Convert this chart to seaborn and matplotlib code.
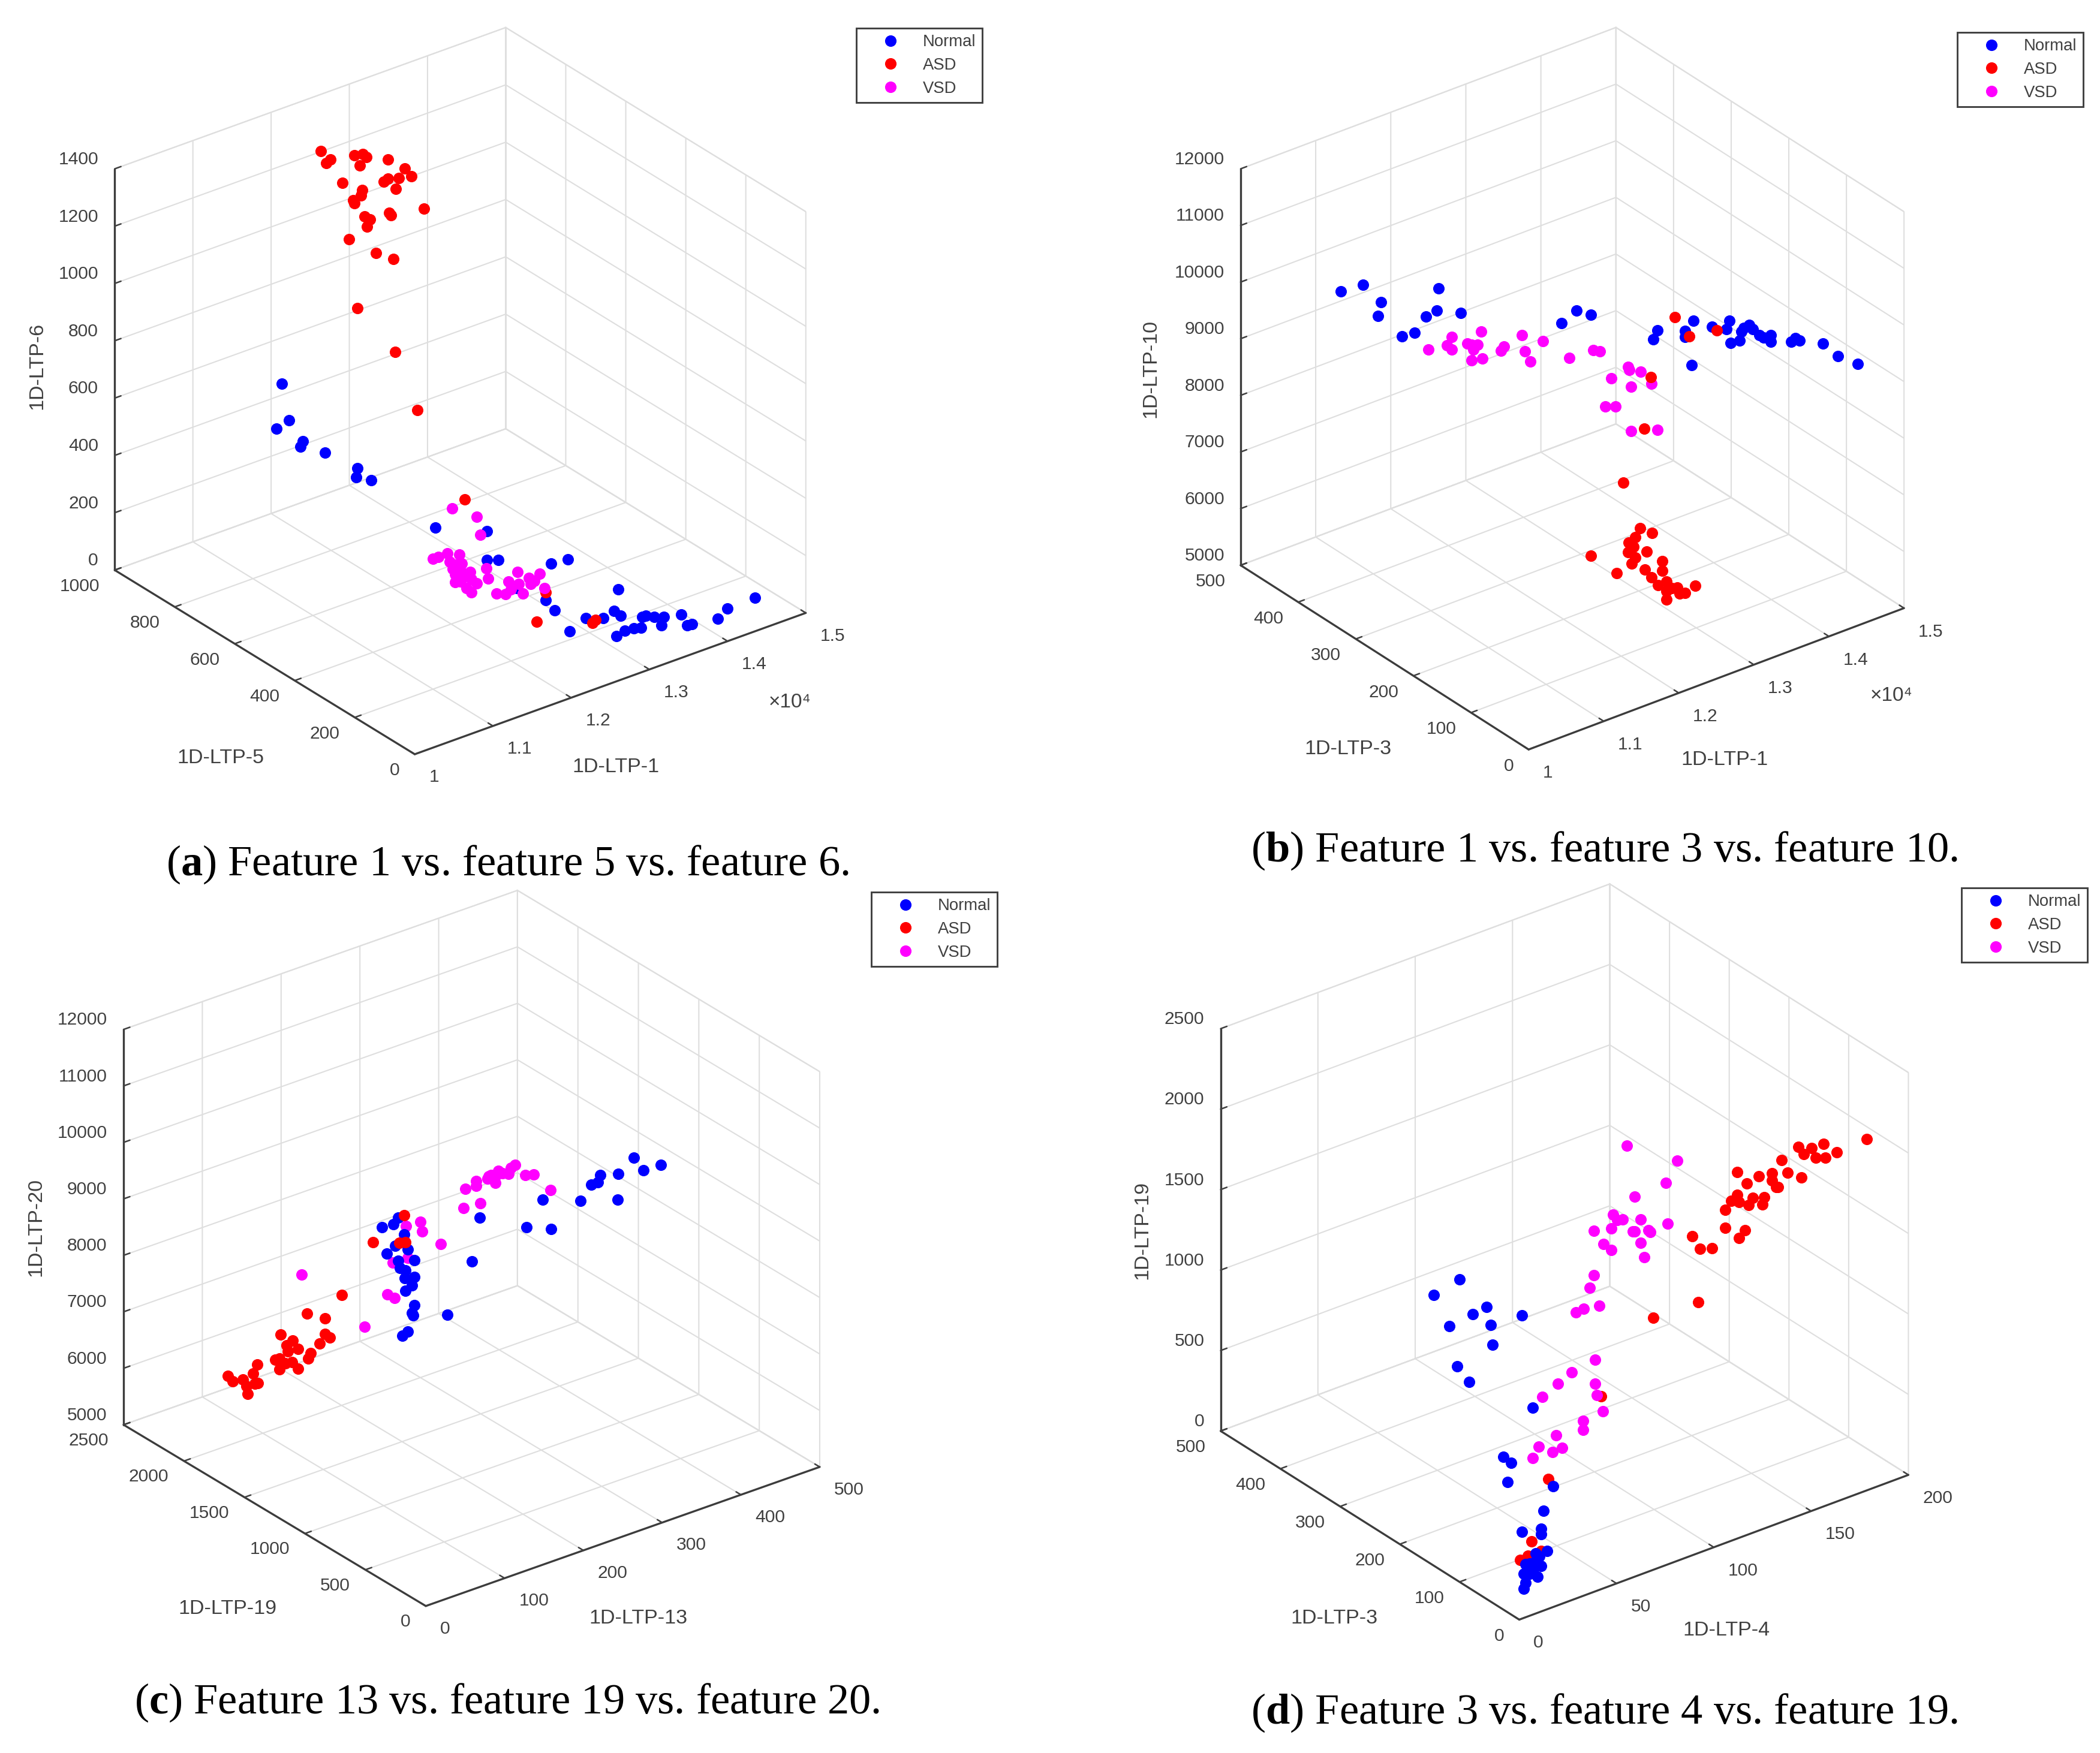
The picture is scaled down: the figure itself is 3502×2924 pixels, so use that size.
import numpy as np
import matplotlib
matplotlib.use("Agg")
import matplotlib.pyplot as plt
from matplotlib.lines import Line2D
import seaborn as sns

W, H = 3502, 2924
DPI = 300

classes = ["Normal", "ASD", "VSD"]
class_colors = ["#0000ff", "#ff0000", "#ff00ff"]

# (a) feature 1 / 5 / 6
a_normal_x = [11558, 11652, 11490, 11832, 11798, 12115, 12526, 12509, 12706, 11413, 12072, 12072, 12218, 12894, 13108, 12457, 12825, 12937, 13177, 12560, 12766, 12988, 13125, 13211, 13151, 13262, 13373, 13468, 13485, 13528, 13639, 13759, 13536, 13793, 13870, 13930, 14063, 14191, 14542]
a_normal_y = [850, 850, 850, 850, 850, 850, 850, 850, 850, 300, 300, 300, 300, 300, 300, 300, 300, 300, 150, 150, 150, 150, 150, 150, 150, 150, 150, 150, 150, 150, 150, 150, 100, 100, 100, 100, 50, 50, 50]
a_normal_z = [594, 457, 443, 366, 350, 298, 203, 172, 143, 459, 381, 281, 267, 188, 180, 145, 66, 19, 166, 81, 105, 83, 95, 70, 5, 14, 10, 3, 39, 39, 23, 12, 37, 50, 4, 2, 41, 62, 66]
a_asd_x = [12063, 12132, 12183, 12492, 12594, 12646, 12560, 12920, 13134, 12337, 12868, 12920, 13057, 13219, 13022, 12586, 12577, 12474, 12492, 13382, 12620, 12688, 12937, 12954, 12654, 12423, 12766, 12988, 12526, 13014, 13296, 11789, 12825, 12132, 12851, 12886]
a_asd_y = [850, 850, 850, 850, 850, 850, 850, 850, 850, 850, 850, 850, 850, 850, 850, 850, 850, 850, 850, 850, 850, 850, 850, 850, 850, 850, 850, 850, 850, 850, 850, 300, 300, 150, 150, 150]
a_asd_z = [1355, 1307, 1313, 1297, 1293, 1276, 1255, 1241, 1189, 1216, 1169, 1175, 1162, 1152, 1129, 1167, 1150, 1142, 1131, 1024, 1073, 1055, 1053, 1043, 1034, 1011, 929, 887, 761, 561, 329, 519, 93, 155, 81, 87]
a_vsd_x = [11627, 11944, 11986, 11387, 11456, 11567, 11721, 11601, 11670, 11755, 11635, 11738, 11858, 11670, 11755, 11875, 11670, 11738, 11944, 11815, 11875, 12063, 12089, 12466, 12346, 12483, 12611, 12680, 12748, 12637, 12380, 12200, 12312, 12534, 12808]
a_vsd_y = [300, 300, 300, 300, 300, 300, 300, 300, 300, 300, 300, 300, 300, 300, 300, 300, 300, 300, 300, 300, 300, 300, 300, 300, 300, 300, 300, 300, 300, 300, 300, 300, 300, 300, 300]
a_vsd_z = [505, 443, 378, 352, 352, 354, 335, 321, 304, 300, 292, 277, 261, 271, 252, 234, 242, 238, 211, 207, 188, 252, 215, 201, 178, 157, 165, 147, 165, 141, 147, 151, 137, 118, 110]

# (b) feature 1 / 3 / 10
b_normal_x = [10758, 11052, 11292, 11257, 12059, 12041, 11890, 12353, 11578, 11738, 12353, 12558, 12745, 12041, 12103, 12469, 12469, 12576, 12558, 12825, 13021, 13057, 13075, 13191, 13218, 13253, 13325, 13369, 13458, 13512, 13610, 13610, 13877, 13940, 13993, 14305, 14501, 14768]
b_normal_y = [425, 425, 425, 425, 425, 425, 425, 425, 425, 425, 250, 250, 250, 50, 50, 50, 50, 50, 50, 50, 50, 50, 50, 50, 50, 50, 50, 50, 50, 50, 50, 50, 50, 50, 50, 50, 50, 50]
b_normal_z = [9949, 9919, 9489, 9264, 9352, 8970, 8931, 8764, 8745, 8725, 9729, 9846, 9680, 10903, 11021, 10835, 10727, 10962, 10189, 10727, 10590, 10717, 10316, 10306, 10443, 10492, 10512, 10414, 10267, 10198, 10189, 10071, 9934, 9973, 9905, 9689, 9376, 9102]
b_asd_x = [12335, 12522, 12888, 12968, 12879, 12603, 12175, 12513, 12825, 12986, 12763, 12674, 12736, 12665, 12915, 12763, 12718, 13120, 12888, 13120, 12977, 13066, 13182, 13253, 13325, 13369, 13182, 13164, 13235, 12986]
b_asd_y = [50, 50, 50, 175, 175, 175, 175, 175, 175, 175, 175, 175, 175, 175, 175, 175, 175, 175, 175, 175, 175, 175, 175, 175, 175, 150, 175, 150, 150, 150]
b_asd_z = [11148, 10708, 10629, 8950, 8089, 7276, 6199, 5720, 6356, 6189, 6229, 6180, 6072, 6013, 5906, 5866, 5788, 5631, 5602, 5465, 5416, 5230, 5240, 5083, 5064, 5235, 5073, 5196, 5176, 5186]
b_vsd_x = [11542, 11792, 11854, 11854, 12059, 12121, 12193, 12246, 12121, 12264, 12139, 12505, 12549, 12790, 12825, 12897, 13066, 13423, 13735, 13824, 13244, 13262, 13414, 13021, 13280, 13556, 12941, 13075, 13280, 13637]
b_vsd_y = [375, 375, 375, 375, 375, 375, 375, 375, 375, 375, 375, 375, 375, 375, 375, 375, 375, 375, 375, 375, 250, 250, 250, 250, 250, 250, 250, 250, 250, 250]
b_vsd_z = [8852, 8803, 8921, 8696, 8696, 8647, 8608, 8823, 8373, 8334, 8559, 8353, 8402, 8480, 8177, 7961, 8245, 7766, 7746, 7678, 8505, 8446, 8338, 8417, 8143, 8054, 7966, 7898, 7359, 7203]

# (c) feature 13 / 19 / 20
c_normal_x = [136, 151, 157, 164, 153, 142, 169, 177, 157, 159, 166, 177, 165, 174, 166, 177, 174, 176, 169, 162, 219, 250, 260, 320, 351, 340, 388, 435, 402, 410, 413, 436, 456, 468, 490]
c_normal_y = [1250, 1250, 1250, 1250, 1250, 1250, 1250, 1250, 1250, 1250, 1250, 1250, 1250, 1250, 1250, 1250, 1250, 1250, 1250, 1250, 1250, 1250, 1250, 1250, 1250, 1250, 1250, 1250, 1250, 1250, 1250, 1250, 1250, 1250, 1250]
c_normal_z = [9432, 9412, 9502, 9163, 9023, 8933, 8873, 8644, 8734, 8594, 8524, 8355, 8385, 8215, 8165, 7856, 7727, 7677, 7428, 7378, 7478, 8265, 8993, 8524, 8345, 8913, 8654, 8445, 8873, 8883, 8993, 8903, 9083, 8804, 8794]
c_asd_x = [56, 62, 75, 79, 81, 88, 93, 90, 94, 116, 121, 123, 121, 130, 138, 145, 132, 137, 145, 129, 158, 161, 172, 179, 185, 179, 156, 200, 125, 164, 158, 166]
c_asd_y = [2000, 2000, 2000, 2000, 2000, 2000, 2000, 2000, 2000, 2000, 2000, 2000, 2000, 2000, 2000, 2000, 2000, 2000, 2000, 2000, 2000, 2000, 2000, 2000, 2000, 2000, 2000, 2000, 1250, 1250, 1250, 1250]
c_asd_z = [6236, 6107, 6077, 5937, 5788, 6117, 6256, 5927, 5917, 6226, 6216, 6635, 6027, 6406, 6456, 6276, 6296, 6077, 5917, 6097, 6037, 6117, 6236, 6366, 6276, 6645, 6844, 6954, 9223, 9511, 9053, 9023]
c_vsd_x = [34, 114, 143, 152, 150, 167, 185, 187, 211, 169, 242, 240, 256, 256, 261, 270, 275, 280, 284, 272, 297, 300, 305, 318, 329, 350, 289, 280]
c_vsd_y = [1250, 1250, 1250, 1250, 1250, 1250, 1250, 1250, 1250, 1250, 1250, 1250, 1250, 1250, 1250, 1250, 1250, 1250, 1250, 1250, 1250, 1250, 1250, 1250, 1250, 1250, 1250, 1250]
c_vsd_z = [9093, 7777, 8205, 8106, 8734, 9302, 9282, 9103, 8764, 8724, 9591, 9262, 9661, 9571, 9242, 9631, 9671, 9511, 9701, 9661, 9581, 9681, 9701, 9462, 9412, 9033, 9631, 9621]

# (d) feature 4 / 3 / 19
d_normal_x = [10, 11, 10, 13, 17, 11, 15, 19, 16, 16, 18, 22, 9, 19, 19, 20, 25, 13, 14, 17, 79, 92, 106, 99, 87, 108, 124, 109, 91, 97, 53, 38, 42, 40]
d_normal_y = [25, 25, 25, 25, 25, 25, 25, 25, 25, 25, 25, 25, 25, 25, 25, 25, 25, 25, 25, 25, 400, 400, 400, 400, 400, 400, 400, 400, 400, 400, 150, 150, 150, 150]
d_normal_z = [88, 122, 182, 168, 133, 238, 192, 189, 231, 283, 255, 269, 448, 388, 420, 528, 658, 231, 178, 238, 725, 763, 529, 515, 494, 406, 396, 280, 228, 102, 726, 488, 432, 324]
d_asd_x = [8, 12, 14, 19, 61, 88, 115, 138, 135, 139, 145, 152, 152, 155, 158, 159, 158, 163, 164, 166, 162, 159, 169, 171, 172, 176, 176, 178, 179, 181, 184, 191, 174, 177, 181, 183, 187, 188, 194, 194]
d_asd_y = [25, 25, 25, 25, 150, 150, 150, 150, 150, 150, 150, 150, 150, 150, 150, 150, 150, 150, 150, 150, 150, 150, 150, 150, 150, 150, 150, 150, 150, 150, 150, 150, 100, 100, 100, 100, 100, 100, 100, 50]
d_asd_z = [277, 284, 364, 284, 247, 639, 1006, 999, 1423, 1328, 1304, 1510, 1398, 1552, 1577, 1528, 1720, 1626, 1486, 1524, 1339, 1304, 1643, 1461, 1500, 1629, 1587, 1535, 1531, 1689, 1598, 1538, 1922, 1862, 1883, 1813, 1880, 1789, 1796, 1995]
d_vsd_x = [58, 66, 73, 85, 85, 86, 89, 79, 79, 65, 56, 63, 68, 53, 132, 158, 152, 136, 125, 127, 130, 139, 115, 124, 135, 136, 143, 144, 153, 120, 124, 139, 141, 115, 113, 118, 110, 106]
d_vsd_y = [150, 150, 150, 150, 150, 150, 150, 150, 150, 150, 150, 150, 150, 150, 250, 250, 250, 250, 250, 250, 250, 250, 250, 250, 250, 250, 250, 250, 250, 250, 250, 250, 250, 250, 250, 250, 250, 250]
d_vsd_z = [772, 817, 856, 880, 733, 656, 544, 527, 474, 502, 471, 408, 411, 415, 1766, 1556, 1444, 1430, 1367, 1325, 1318, 1276, 1314, 1286, 1220, 1213, 1192, 1174, 1188, 1209, 1153, 1129, 1031, 1038, 968, 835, 852, 845]

x_ticks_ltp1 = [10000, 11000, 12000, 13000, 14000, 15000]
x_ticklabels_ltp1 = ["1", "1.1", "1.2", "1.3", "1.4", "1.5"]

sns.set_theme(style="white", rc={"axes.grid": True})
plt.rcParams["font.family"] = ["Liberation Sans", "DejaVu Sans"]
plt.rcParams["mathtext.fontset"] = "custom"
plt.rcParams["mathtext.rm"] = "Liberation Serif"
plt.rcParams["mathtext.bf"] = "Liberation Serif:bold"

palette = dict(zip(classes, class_colors))
TEXT = "#404040"
GRID = "#dedede"
EDGE = "#3c3c3c"


def fig_text(fig, px, py, s, **kw):
    fig.text(px / W, 1 - py / H, s, ha="center", va="center", color=TEXT, **kw)


def draw_panel(fig, center, lx, elev, k, series, order, labels, label_pos, xt, xtl, yt, zt, xlim, ylim, zlim):
    # square axes big enough that the projected box has the wanted size
    aspect = np.array([1.0, 1.0, k])
    side = lx * np.linalg.norm(aspect) / 1.0301
    left = center[0] - 0.5135 * side
    bottom = H - center[1] - 0.5135 * side
    ax = fig.add_axes([left / W, bottom / H, side / W, side / H], projection="3d",
                      proj_type="ortho", computed_zorder=False)
    ax.patch.set_alpha(0)
    ax.set_box_aspect(aspect)
    ax.view_init(elev=elev, azim=-127.5)

    for i, name in enumerate(order):
        xs, ys, zs = series[name]
        ax.scatter(xs, ys, zs, color=palette[name], s=21, linewidths=0,
                   depthshade=False, alpha=1, zorder=i + 2)

    ax.set_xlim(*xlim)
    ax.set_ylim(*ylim)
    ax.set_zlim(*zlim)
    ax.set_xticks(xt)
    ax.set_xticklabels(xtl)
    ax.set_yticks(yt)
    ax.set_yticklabels([str(t) for t in yt])
    ax.set_zticks(zt)
    ax.set_zticklabels([str(t) for t in zt])
    ax.tick_params(labelsize=7.2, labelcolor=TEXT, colors=TEXT, pad=0)
    ax.tick_params(axis="y", pad=-1.5)
    ax.tick_params(axis="z", pad=-4)

    for axis in (ax.xaxis, ax.yaxis, ax.zaxis):
        axis.set_pane_color((1, 1, 1, 1))
        axis.pane.set_edgecolor(GRID)
        axis.pane.set_linewidth(0.5)
        axis.line.set_color(EDGE)
        axis.line.set_linewidth(0.8)
        axis._axinfo["grid"].update(color=GRID, linewidth=0.5, linestyle="-")
        axis._axinfo["tick"].update(inward_factor=0.0, outward_factor=0.2, linewidth={True: 0.6, False: 0.6}, color=EDGE)
    ax.zaxis.set_ticks_position("upper")

    for t in ax.xaxis.get_major_ticks():
        t.label1.set_ha("left")
        t.label1.set_va("baseline")
    for t in ax.yaxis.get_major_ticks():
        t.label1.set_ha("right")
        t.label1.set_va("baseline")
    for t in ax.zaxis.get_major_ticks():
        t.label1.set_ha("right")
        t.label1.set_va("bottom")

    # axis labels sit where matlab put them, mplot3d cannot do this by itself
    fig_text(fig, *label_pos[0], labels[0], fontsize=8.2)
    fig_text(fig, *label_pos[1], labels[1], fontsize=8.2)
    fig_text(fig, *label_pos[2], labels[2], fontsize=8.2, rotation=90)
    return ax


def add_legend(fig, x0, y0):
    handles = [Line2D([], [], ls="", marker="o", ms=4.6, mew=0, color=palette[c]) for c in classes]
    leg = fig.legend(handles, classes, loc="upper left", bbox_to_anchor=(x0 / W, 1 - y0 / H),
                     fontsize=6.6, frameon=True, fancybox=False, edgecolor="#404040", framealpha=1,
                     borderaxespad=0, handletextpad=0.3, labelspacing=0.46, handlelength=3.36,
                     borderpad=0.38, labelcolor=TEXT)
    leg.get_frame().set_linewidth(0.7)


def caption(fig, cx, cy, letter, rest):
    fig.text(cx / W, 1 - cy / H, r"($\mathbf{" + letter + r"}$) " + rest, ha="center", va="center",
             family="Liberation Serif", fontsize=17.4, color="black")


fig = plt.figure(figsize=(W / DPI, H / DPI), dpi=DPI, facecolor="white")

draw_panel(fig, (767.5, 652), 822, 28.1, 0.923,
           {"Normal": (a_normal_x, a_normal_y, a_normal_z), "ASD": (a_asd_x, a_asd_y, a_asd_z), "VSD": (a_vsd_x, a_vsd_y, a_vsd_z)},
           ["Normal", "ASD", "VSD"], ("1D-LTP-1", "1D-LTP-5", "1D-LTP-6"),
           ((1027, 1280), (368, 1264), (62, 610)),
           x_ticks_ltp1, x_ticklabels_ltp1, [0, 200, 400, 600, 800, 1000], [0, 200, 400, 600, 800, 1000, 1200, 1400],
           (10000, 15000), (0, 1000), (0, 1400))
draw_panel(fig, (2622, 648), 789, 29.4, 0.962,
           {"Normal": (b_normal_x, b_normal_y, b_normal_z), "ASD": (b_asd_x, b_asd_y, b_asd_z), "VSD": (b_vsd_x, b_vsd_y, b_vsd_z)},
           ["Normal", "VSD", "ASD"], ("1D-LTP-1", "1D-LTP-3", "1D-LTP-10"),
           ((2876, 1268), (2248, 1250), (1919, 615)),
           x_ticks_ltp1, x_ticklabels_ltp1, [0, 100, 200, 300, 400, 500], [5000, 6000, 7000, 8000, 9000, 10000, 11000, 12000],
           (10000, 15000), (0, 500), (5000, 12000))
draw_panel(fig, (786.5, 2082), 828, 27.4, 0.897,
           {"Normal": (c_normal_x, c_normal_y, c_normal_z), "ASD": (c_asd_x, c_asd_y, c_asd_z), "VSD": (c_vsd_x, c_vsd_y, c_vsd_z)},
           ["VSD", "Normal", "ASD"], ("1D-LTP-13", "1D-LTP-19", "1D-LTP-20"),
           ((1064, 2700), (379, 2684), (60, 2047)),
           [0, 100, 200, 300, 400, 500], ["0", "100", "200", "300", "400", "500"],
           [0, 500, 1000, 1500, 2000, 2500], [5000, 6000, 7000, 8000, 9000, 10000, 11000, 12000],
           (0, 500), (0, 2500), (5000, 12000))
draw_panel(fig, (2609, 2088), 818, 29.0, 0.938,
           {"Normal": (d_normal_x, d_normal_y, d_normal_z), "ASD": (d_asd_x, d_asd_y, d_asd_z), "VSD": (d_vsd_x, d_vsd_y, d_vsd_z)},
           ["ASD", "VSD", "Normal"], ("1D-LTP-4", "1D-LTP-3", "1D-LTP-19"),
           ((2879, 2719), (2225, 2699), (1905, 2052)),
           [0, 50, 100, 150, 200], ["0", "50", "100", "150", "200"],
           [0, 100, 200, 300, 400, 500], [0, 500, 1000, 1500, 2000, 2500],
           (0, 200), (0, 500), (0, 2500))

# matlab style exponent next to the x axis
for ex, ey in [(1317, 1172), (3154, 1161)]:
    fig_text(fig, ex, ey, "×10⁴", fontsize=8)

add_legend(fig, 1428, 47)
add_legend(fig, 3264, 54)
add_legend(fig, 1453, 1488)
add_legend(fig, 3271, 1481)

caption(fig, 846, 1442, "a", "Feature 1 vs. feature 5 vs. feature 6.")
caption(fig, 2675, 1419, "b", "Feature 1 vs. feature 3 vs. feature 10.")
caption(fig, 846, 2840, "c", "Feature 13 vs. feature 19 vs. feature 20.")
caption(fig, 2675, 2857, "d", "Feature 3 vs. feature 4 vs. feature 19.")

fig.savefig("out.png", dpi=DPI)
